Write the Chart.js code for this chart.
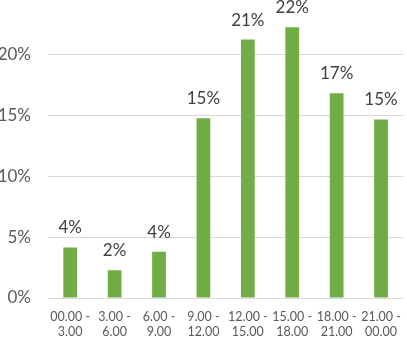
<!DOCTYPE html>
<html>
<head>
<meta charset="utf-8">
<script src="https://cdn.jsdelivr.net/npm/chart.js@4/dist/chart.umd.min.js"></script>
<style>
  html, body { margin: 0; padding: 0; background: #fff; overflow: hidden; }
  #wrap { position: absolute; left: 0; top: -34px; width: 412px; height: 371px; }
</style>
</head>
<body>
<div id="wrap"><canvas id="myChart" width="412" height="371"></canvas></div>
<script>
const timeSlots = [["00.00 -", "3.00"], ["3.00 -", "6.00"], ["6.00 -", "9.00"], ["9.00 -", "12.00"],
                   ["12.00 -", "15.00"], ["15.00 -", "18.00"], ["18.00 -", "21.00"], ["21.00 -", "00.00"]];
const shares = [4.15, 2.27, 3.8, 14.75, 21.2, 22.2, 16.8, 14.65];
const shareLabels = ["4%", "2%", "4%", "15%", "21%", "22%", "17%", "15%"];
const yTicks = [0, 5, 10, 15, 20];

const barLabels = {
  id: 'barLabels',
  afterDatasetsDraw(chart) {
    const ctx = chart.ctx;
    const meta = chart.getDatasetMeta(0);
    ctx.save();
    ctx.font = '17px Lato';
    ctx.fillStyle = '#404040';
    ctx.textAlign = 'center';
    ctx.textBaseline = 'alphabetic';
    meta.data.forEach((bar, i) => {
      ctx.fillText(shareLabels[i], bar.x, bar.y - 14);
    });
    ctx.restore();
  }
};

new Chart("myChart", {
  type: "bar",
  data: {
    labels: timeSlots,
    datasets: [{
      data: shares,
      backgroundColor: "#70AD47",
      barPercentage: 0.31,
      categoryPercentage: 1
    }]
  },
  options: {
    responsive: false,
    animation: false,
    layout: { padding: { top: 12, right: 1, left: 0, bottom: 0 } },
    plugins: { legend: { display: false }, tooltip: { enabled: false } },
    scales: {
      x: {
        grid: { display: false, drawTicks: false },
        border: { display: false },
        ticks: {
          color: '#595959',
          font: { family: 'Lato', size: 12.5, lineHeight: 1.2 },
          padding: 11,
          maxRotation: 0,
          autoSkip: false
        },
        afterFit(scale) { scale.height = 39; }
      },
      y: {
        min: 0,
        max: 25,
        grid: { color: '#d9d9d9', lineWidth: 1, drawTicks: false },
        border: { display: false },
        ticks: {
          color: '#595959',
          font: { family: 'Lato', size: 17 },
          padding: 17,
          callback: v => v + '%'
        },
        afterBuildTicks(scale) { scale.ticks = yTicks.map(v => ({ value: v })); },
        afterFit(scale) { scale.width = 48; }
      }
    }
  },
  plugins: [barLabels]
});
</script>
</body>
</html>
